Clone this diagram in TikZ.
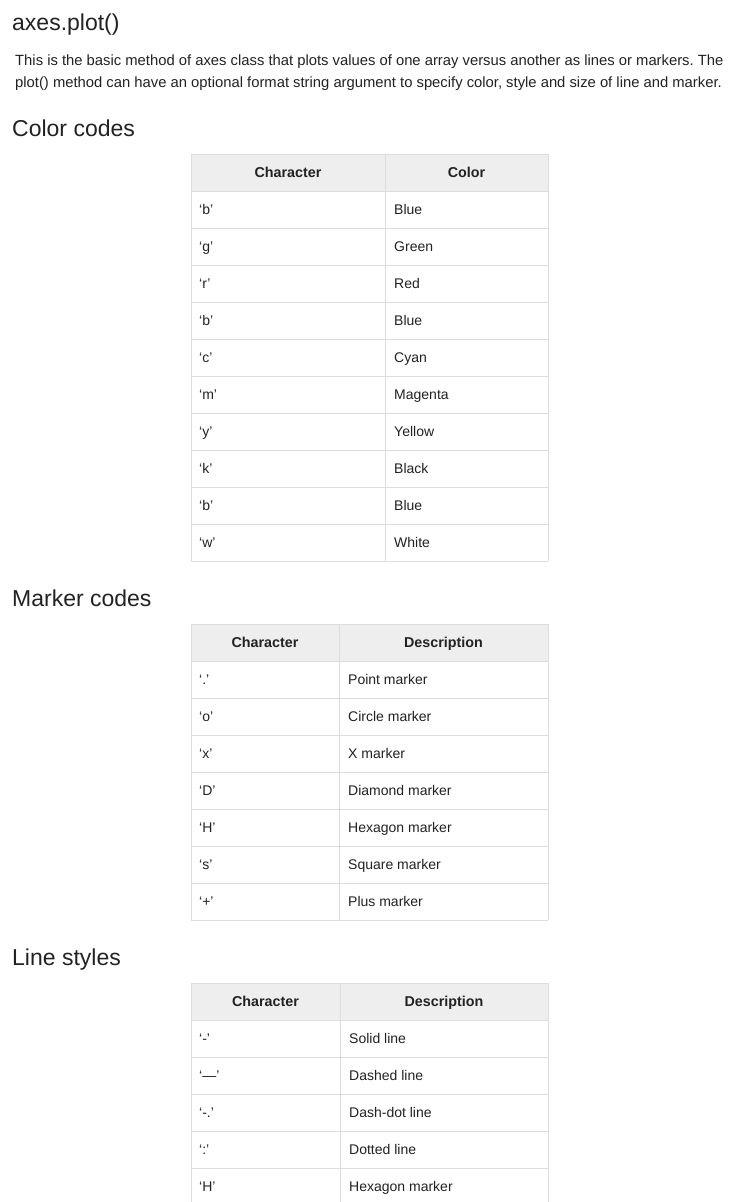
\documentclass[tikz,border=0pt]{standalone}
\usepackage{fontspec}
\setmainfont{Liberation Sans}
\frenchspacing
\definecolor{hdr}{HTML}{EEEEEE}
\definecolor{gridc}{HTML}{DDDDDD}
\definecolor{txt}{HTML}{222222}
\tikzset{
  title/.style={anchor=base west, inner sep=0pt, text=txt, font=\fontsize{23}{27}\selectfont},
  para/.style={anchor=base west, inner sep=0pt, text=txt, font=\fontsize{14.8}{18}\selectfont},
  cell/.style={anchor=base west, inner sep=0pt, text=txt, font=\fontsize{14}{16}\selectfont},
  head/.style={anchor=base, inner sep=0pt, text=txt, font=\fontsize{14.3}{16}\selectfont\bfseries},
  gridline/.style={draw=gridc, line width=1pt},
}
\begin{document}
\begin{tikzpicture}[x=1pt,y=-1pt]
\useasboundingbox[fill=white] (0,0) rectangle (731,1202);
% headings and paragraph
\node[title] (h0) at (12,30) {axes.plot()};
\node[para] (p1) at (15,65) {This is the basic method of axes class that plots values of one array versus another as lines or markers. The};
\node[para] (p2) at (15,87) {plot() method can have an optional format string argument to specify color, style and size of line and marker.};
\node[title] (h1) at (12,136) {Color codes};
\node[title] (h2) at (12,606) {Marker codes};
\node[title] (h3) at (12,965) {Line styles};
% ---------- table 1 ----------
\fill[hdr] (191,154) rectangle (548,191);
\foreach \k in {0,...,11} \draw[gridline] (191,{154+37*\k}) -- (548,{154+37*\k});
\foreach \xx in {191,385,548} \draw[gridline] (\xx,154) -- (\xx,561);
\node[head] (t1h1) at (288,177) {Character};
\node[head] (t1h2) at (466.5,177) {Color};
\foreach \c/\d [count=\i] in {‘b’/Blue,‘g’/Green,‘r’/Red,‘b’/Blue,‘c’/Cyan,‘m’/Magenta,‘y’/Yellow,‘k’/Black,‘b’/Blue,‘w’/White}{
  \node[cell] (t1c\i) at (199,{191+37*(\i-1)+23.5}) {\c};
  \node[cell] (t1d\i) at (394,{191+37*(\i-1)+23.5}) {\d};
}
% ---------- table 2 ----------
\fill[hdr] (191,624) rectangle (548,661);
\foreach \k in {0,...,8} \draw[gridline] (191,{624+37*\k}) -- (548,{624+37*\k});
\foreach \xx in {191,339,548} \draw[gridline] (\xx,624) -- (\xx,920);
\node[head] (t2h1) at (265,647) {Character};
\node[head] (t2h2) at (443.5,647) {Description};
\foreach \c/\d [count=\i] in {‘.’/Point marker,‘o’/Circle marker,‘x’/X marker,‘D’/Diamond marker,‘H’/Hexagon marker,‘s’/Square marker,‘+’/Plus marker}{
  \node[cell] (t2c\i) at (199,{661+37*(\i-1)+23.5}) {\c};
  \node[cell] (t2d\i) at (348,{661+37*(\i-1)+23.5}) {\d};
}
% ---------- table 3 ----------
\fill[hdr] (191,983) rectangle (548,1020);
\foreach \k in {0,...,5} \draw[gridline] (191,{983+37*\k}) -- (548,{983+37*\k});
\foreach \xx in {191,340,548} \draw[gridline] (\xx,983) -- (\xx,1205);
\node[head] (t3h1) at (265.5,1006) {Character};
\node[head] (t3h2) at (444,1006) {Description};
\foreach \c/\d [count=\i] in {‘-’/Solid line,‘—’/Dashed line,‘-.’/Dash-dot line,‘:’/Dotted line,‘H’/Hexagon marker}{
  \node[cell] (t3c\i) at (199,{1020+37*(\i-1)+23.5}) {\c};
  \node[cell] (t3d\i) at (349,{1020+37*(\i-1)+23.5}) {\d};
}
\end{tikzpicture}
\end{document}
